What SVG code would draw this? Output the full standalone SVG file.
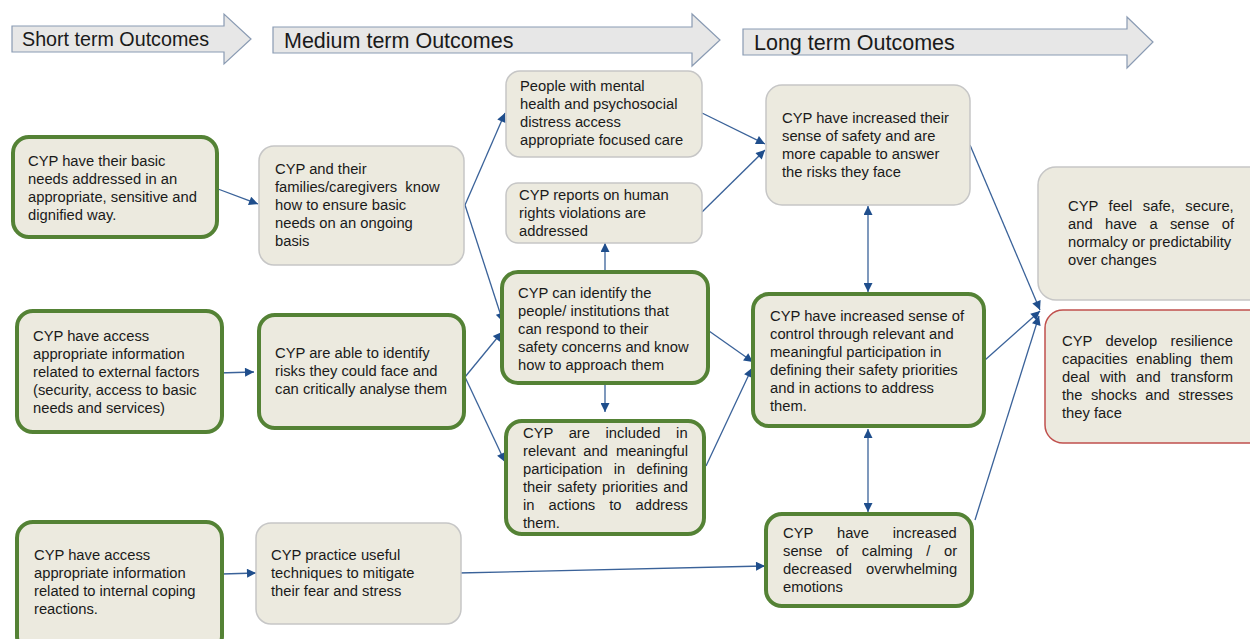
<svg xmlns="http://www.w3.org/2000/svg" width="1250" height="639" viewBox="0 0 1250 639">
  <defs>
    <style>
      .band { fill: #E7E7E7; stroke: #8A9BB3; stroke-width: 1.2; }
      .band-label { font-family: "Liberation Sans", Arial, sans-serif; fill: #1a1a1a; }
      .box { fill: #ECEADF; }
      .green { stroke: #548235; stroke-width: 4; }
      .grey { stroke: #C6C6C6; stroke-width: 1.5; }
      .red { stroke: #C0504D; stroke-width: 1.5; }
      .t { font-family: "Liberation Sans", Arial, sans-serif; font-size: 14.75px; fill: #1a1a1a; }
      .link { fill: none; stroke: #3A6299; stroke-width: 1.3; }
    </style>
    <marker id="ah" viewBox="0 0 10 10" refX="10" refY="5" markerWidth="11" markerHeight="9" markerUnits="userSpaceOnUse" orient="auto-start-reverse">
      <path d="M0,0 L10,5 L0,10 z" fill="#1F4E8C"/>
    </marker>
  </defs>

  <rect width="1250" height="639" fill="#FFFFFF"/>

  <!-- timeline band arrows -->
  <g id="band-short">
    <path class="band" d="M12,26 H224 V14 L251,39 L224,64 V52 H12 Z"/>
    <text class="band-label" x="22" y="46" font-size="19.7">Short term Outcomes</text>
  </g>
  <g id="band-medium">
    <path class="band" d="M273,27 H692 V14 L720,40 L692,66 V53 H273 Z"/>
    <text class="band-label" x="284" y="48" font-size="21.5">Medium term Outcomes</text>
  </g>
  <g id="band-long">
    <path class="band" d="M743,29 H1127 V17 L1153,42 L1127,68 V55 H743 Z"/>
    <text class="band-label" x="754" y="50" font-size="21.5">Long term Outcomes</text>
  </g>

  <!-- connectors -->
  <g id="connectors">
    <line class="link" x1="218" y1="189" x2="258" y2="204" marker-end="url(#ah)"/>
    <line class="link" x1="218" y1="373" x2="254" y2="372" marker-end="url(#ah)"/>
    <line class="link" x1="222" y1="574" x2="256" y2="573" marker-end="url(#ah)"/>
    <line class="link" x1="458" y1="573" x2="765" y2="566" marker-end="url(#ah)"/>
    <line class="link" x1="465" y1="205" x2="505" y2="113" marker-end="url(#ah)"/>
    <line class="link" x1="465" y1="205" x2="503" y2="322" marker-end="url(#ah)"/>
    <line class="link" x1="465" y1="377" x2="502" y2="332" marker-end="url(#ah)"/>
    <line class="link" x1="465" y1="377" x2="505" y2="462" marker-end="url(#ah)"/>
    <line class="link" x1="605" y1="271" x2="605" y2="243" marker-end="url(#ah)"/>
    <line class="link" x1="605" y1="385" x2="605" y2="412" marker-end="url(#ah)"/>
    <line class="link" x1="702" y1="113" x2="765" y2="144" marker-end="url(#ah)"/>
    <line class="link" x1="702" y1="212" x2="765" y2="150" marker-end="url(#ah)"/>
    <line class="link" x1="709" y1="331" x2="753" y2="362" marker-end="url(#ah)"/>
    <line class="link" x1="706" y1="466" x2="752" y2="368" marker-end="url(#ah)"/>
    <line class="link" x1="868" y1="206" x2="868" y2="292" marker-start="url(#ah)" marker-end="url(#ah)"/>
    <line class="link" x1="868" y1="429" x2="868" y2="512" marker-start="url(#ah)" marker-end="url(#ah)"/>
    <line class="link" x1="970" y1="145" x2="1040" y2="310" marker-end="url(#ah)"/>
    <line class="link" x1="985" y1="360" x2="1040" y2="311" marker-end="url(#ah)"/>
    <line class="link" x1="975" y1="520" x2="1039" y2="316" marker-end="url(#ah)"/>
  </g>

  <!-- short term outcomes -->
  <g id="basic-needs">
    <rect class="box green" x="13" y="137" width="204" height="100" rx="16"/>
    <text class="t">
      <tspan x="28" y="166">CYP have their basic</tspan>
      <tspan x="28" y="184">needs addressed in an</tspan>
      <tspan x="28" y="202">appropriate, sensitive and</tspan>
      <tspan x="28" y="220">dignified way.</tspan>
    </text>
  </g>
  <g id="external-info">
    <rect class="box green" x="17" y="311" width="205" height="121" rx="16"/>
    <text class="t">
      <tspan x="33" y="341">CYP have access</tspan>
      <tspan x="33" y="359">appropriate information</tspan>
      <tspan x="33" y="377">related to external factors</tspan>
      <tspan x="33" y="395">(security, access to basic</tspan>
      <tspan x="33" y="413">needs and services)</tspan>
    </text>
  </g>
  <g id="internal-info">
    <rect class="box green" x="17" y="522" width="205" height="130" rx="16"/>
    <text class="t">
      <tspan x="34" y="560">CYP have access</tspan>
      <tspan x="34" y="578">appropriate information</tspan>
      <tspan x="34" y="596">related to internal coping</tspan>
      <tspan x="34" y="614">reactions.</tspan>
    </text>
  </g>

  <!-- medium term outcomes -->
  <g id="ongoing-needs">
    <rect class="box grey" x="259" y="146" width="205" height="119" rx="15"/>
    <text class="t" xml:space="preserve"><tspan x="275" y="174">CYP and their</tspan><tspan x="275" y="192">families/caregivers&#160; know</tspan><tspan x="275" y="210">how to ensure basic</tspan><tspan x="275" y="228">needs on an ongoing</tspan><tspan x="275" y="246">basis</tspan></text>
  </g>
  <g id="identify-risks">
    <rect class="box green" x="259" y="315" width="205" height="113" rx="16"/>
    <text class="t">
      <tspan x="275" y="358">CYP are able to identify</tspan>
      <tspan x="275" y="376">risks they could face and</tspan>
      <tspan x="275" y="394">can critically analyse them</tspan>
    </text>
  </g>
  <g id="coping-techniques">
    <rect class="box grey" x="256" y="523" width="205" height="101" rx="15"/>
    <text class="t">
      <tspan x="271" y="560">CYP practice useful</tspan>
      <tspan x="271" y="578">techniques to mitigate</tspan>
      <tspan x="271" y="596">their fear and stress</tspan>
    </text>
  </g>
  <g id="focused-care">
    <rect class="box grey" x="506" y="71" width="196" height="86" rx="14"/>
    <text class="t">
      <tspan x="520" y="91">People with mental</tspan>
      <tspan x="520" y="109">health and psychosocial</tspan>
      <tspan x="520" y="127">distress access</tspan>
      <tspan x="520" y="145">appropriate focused care</tspan>
    </text>
  </g>
  <g id="rights-reports">
    <rect class="box grey" x="506" y="183" width="196" height="60" rx="12"/>
    <text class="t">
      <tspan x="519" y="200">CYP reports on human</tspan>
      <tspan x="519" y="218">rights violations are</tspan>
      <tspan x="519" y="236">addressed</tspan>
    </text>
  </g>
  <g id="identify-people">
    <rect class="box green" x="502" y="272" width="206" height="111" rx="16"/>
    <text class="t">
      <tspan x="518" y="298">CYP can identify the</tspan>
      <tspan x="518" y="316">people/ institutions that</tspan>
      <tspan x="518" y="334">can respond to their</tspan>
      <tspan x="518" y="352">safety concerns and know</tspan>
      <tspan x="518" y="370">how to approach them</tspan>
    </text>
  </g>
  <g id="participation">
    <rect class="box green" x="506" y="421" width="198" height="113" rx="16"/>
    <!-- justified lines: word-spacing fills each line to the right margin -->
    <text class="t">
      <tspan x="523" y="438" word-spacing="11.5">CYP are included in</tspan>
      <tspan x="523" y="456" word-spacing="3.8">relevant and meaningful</tspan>
      <tspan x="523" y="474" word-spacing="7.1">participation in defining</tspan>
      <tspan x="523" y="492" word-spacing="1.4">their safety priorities and</tspan>
      <tspan x="523" y="510" word-spacing="9.9">in actions to address</tspan>
      <tspan x="523" y="528">them.</tspan>
    </text>
  </g>

  <!-- long term outcomes -->
  <g id="sense-of-safety">
    <rect class="box grey" x="766" y="85" width="204" height="120" rx="16"/>
    <text class="t">
      <tspan x="782" y="123">CYP have increased their</tspan>
      <tspan x="782" y="141">sense of safety and are</tspan>
      <tspan x="782" y="159">more capable to answer</tspan>
      <tspan x="782" y="177">the risks they face</tspan>
    </text>
  </g>
  <g id="sense-of-control">
    <rect class="box green" x="753" y="294" width="231" height="132" rx="16"/>
    <text class="t">
      <tspan x="770" y="321">CYP have increased sense of</tspan>
      <tspan x="770" y="339">control through relevant and</tspan>
      <tspan x="770" y="357">meaningful participation in</tspan>
      <tspan x="770" y="375">defining their safety priorities</tspan>
      <tspan x="770" y="393">and in actions to address</tspan>
      <tspan x="770" y="411">them.</tspan>
    </text>
  </g>
  <g id="sense-of-calming">
    <rect class="box green" x="766" y="514" width="206" height="92" rx="16"/>
    <text class="t">
      <tspan x="783" y="538" word-spacing="19.8">CYP have increased</tspan>
      <tspan x="783" y="556" word-spacing="9.5">sense of calming / or</tspan>
      <tspan x="783" y="574" word-spacing="10.1">decreased overwhelming</tspan>
      <tspan x="783" y="592">emotions</tspan>
    </text>
  </g>

  <!-- impact -->
  <g id="feel-safe">
    <rect class="box grey" x="1038" y="167" width="230" height="133" rx="18"/>
    <text class="t">
      <tspan x="1068" y="211" word-spacing="6.4">CYP feel safe, secure,</tspan>
      <tspan x="1068" y="229" word-spacing="8.3">and have a sense of</tspan>
      <tspan x="1068" y="247">normalcy or predictability</tspan>
      <tspan x="1068" y="265">over changes</tspan>
    </text>
  </g>
  <g id="resilience">
    <rect class="box red" x="1045" y="310" width="222" height="133" rx="18"/>
    <text class="t">
      <tspan x="1062" y="346" word-spacing="9.3">CYP develop resilience</tspan>
      <tspan x="1062" y="364" word-spacing="4.3">capacities enabling them</tspan>
      <tspan x="1062" y="382" word-spacing="5.9">deal with and transform</tspan>
      <tspan x="1062" y="400" word-spacing="4.3">the shocks and stresses</tspan>
      <tspan x="1062" y="418">they face</tspan>
    </text>
  </g>
</svg>
